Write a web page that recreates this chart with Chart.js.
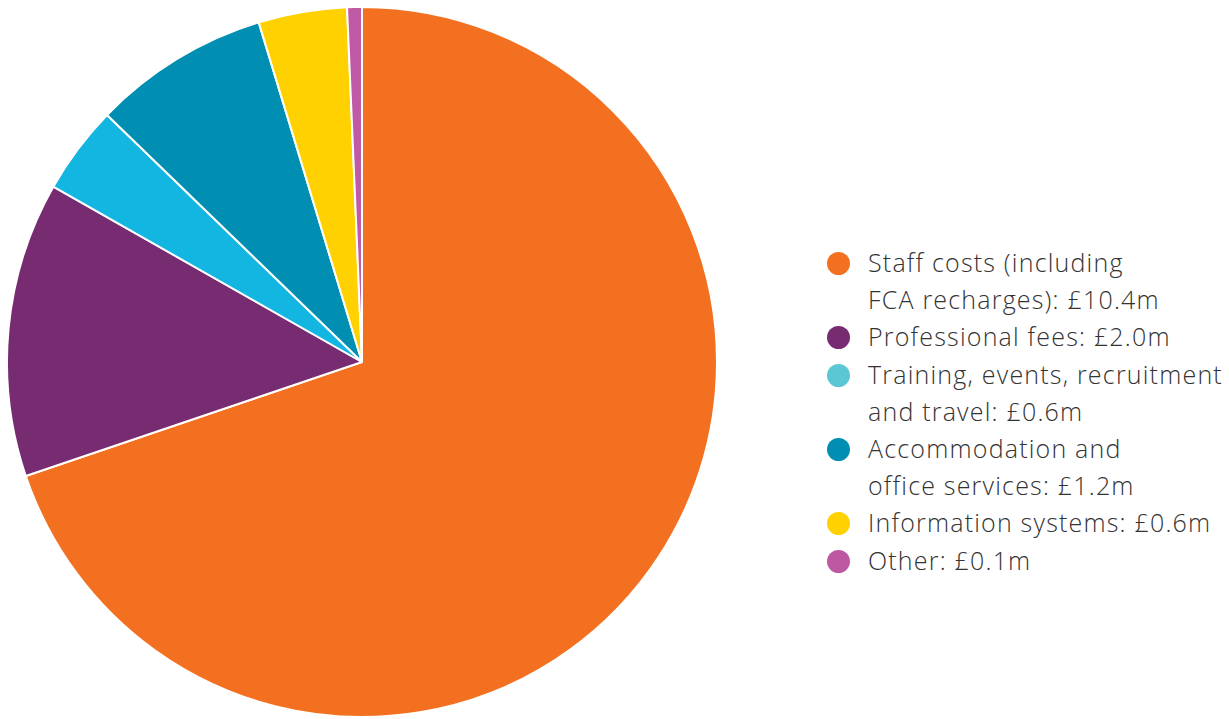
<!DOCTYPE html>
<html>
<head>
<meta charset="utf-8">
<script src="https://cdn.jsdelivr.net/npm/chart.js@4.4.0/dist/chart.umd.min.js"></script>
<style>
  html, body { margin: 0; padding: 0; background: #fff; width: 1229px; height: 719px; overflow: hidden; }
  #pieWrap { position: absolute; left: 6px; top: 6px; width: 712px; height: 712px; }
  #legend { position: absolute; left: 827px; top: 244px; font-family: 'Open Sans', 'Liberation Sans', sans-serif;
            font-weight: 300; font-size: 25px; letter-spacing: 1.2px; line-height: 37.2px; color: #333; white-space: nowrap; }
  .lg-item { position: relative; padding-left: 41px; }
  .lg-dot { position: absolute; left: 0; top: 8px; width: 23px; height: 23px; border-radius: 50%; }
</style>
</head>
<body>
<div id="pieWrap"><canvas id="pieChart"></canvas></div>
<div id="legend"></div>
<script>
// 支出内訳 (£m)
const categories = [
    ['Staff costs (including', 'FCA recharges): £10.4m'],
    ['Professional fees: £2.0m'],
    ['Training, events, recruitment', 'and travel: £0.6m'],
    ['Accommodation and', 'office services: £1.2m'],
    ['Information systems: £0.6m'],
    ['Other: £0.1m'],
];
const values = [10.4, 2.0, 0.6, 1.2, 0.6, 0.1];
const sliceColors = ['#f37021', '#772b70', '#13b5e1', '#008fb3', '#ffd100', '#c05aa6'];
const dotColors = ['#f37021', '#772b70', '#5bc6d4', '#008fb3', '#ffd100', '#be58a3'];

// ============ 凡例（カスタムDOM） ============
document.getElementById('legend').innerHTML = categories.map((lines, i) => `
    <div class="lg-item">
      <span class="lg-dot" style="background:${dotColors[i]}"></span>
      ${lines.join('<br>')}
    </div>`).join('');

// ============ パイチャート ============
new Chart(document.getElementById('pieChart'), {
    type: 'pie',
    data: {
        labels: categories.map(l => l.join(' ')),
        datasets: [{
            data: values,
            backgroundColor: sliceColors,
            borderColor: '#ffffff',
            borderWidth: 2,
        }]
    },
    options: {
        responsive: true, maintainAspectRatio: false,
        animation: false,
        layout: { padding: 0 },
        plugins: {
            legend: { display: false },
            tooltip: { enabled: false },
        }
    }
});
</script>
</body>
</html>
